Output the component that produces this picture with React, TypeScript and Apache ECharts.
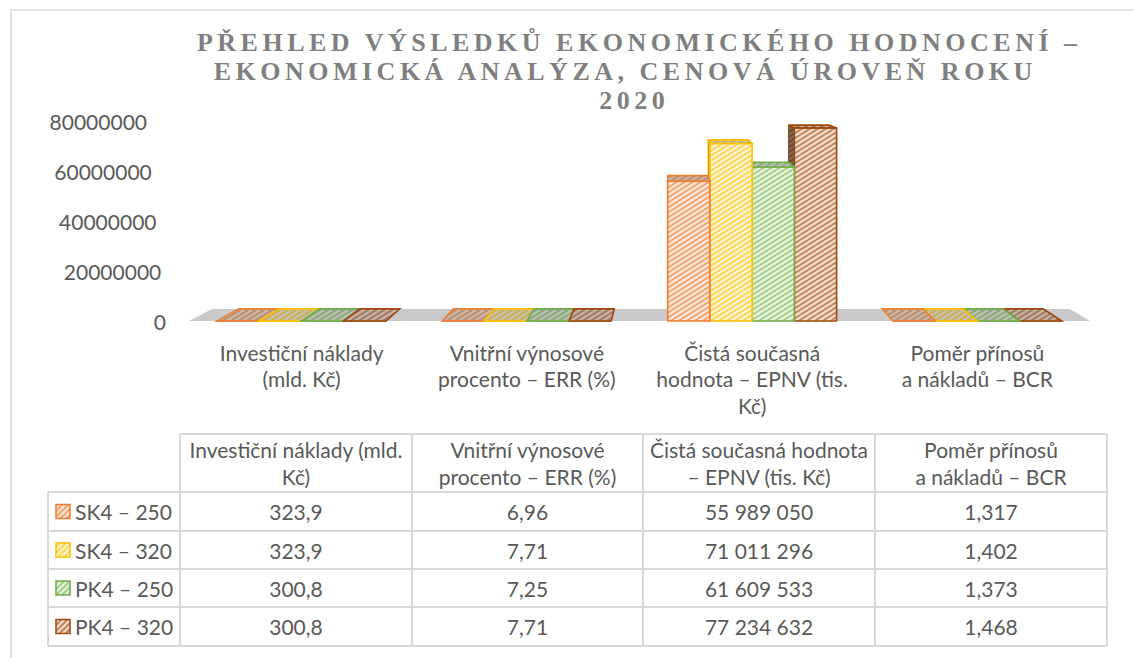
import React, { useEffect, useRef } from 'react';
import * as echarts from 'echarts';

// ---------- data ----------
const titleLines = [
  'PŘEHLED VÝSLEDKŮ EKONOMICKÉHO HODNOCENÍ –',
  'EKONOMICKÁ ANALÝZA, CENOVÁ ÚROVEŇ ROKU',
  '2020',
];
const categories = [
  'Investiční náklady (mld. Kč)',
  'Vnitřní výnosové procento – ERR (%)',
  'Čistá současná hodnota – EPNV (tis. Kč)',
  'Poměr přínosů a nákladů – BCR',
];
const axisLabelText = [
  'Investiční náklady\n(mld. Kč)',
  'Vnitřní výnosové\nprocento – ERR (%)',
  'Čistá současná\nhodnota – EPNV (tis.\nKč)',
  'Poměr přínosů\na nákladů – BCR',
];
const tableHeaderText = [
  'Investiční náklady (mld.\nKč)',
  'Vnitřní výnosové\nprocento – ERR (%)',
  'Čistá současná hodnota\n– EPNV (tis. Kč)',
  'Poměr přínosů\na nákladů – BCR',
];
const seriesNames = ['SK4 – 250', 'SK4 – 320', 'PK4 – 250', 'PK4 – 320'];
const investicniNaklady = [323.9, 323.9, 300.8, 300.8];
const vnitrniVynosove = [6.96, 7.71, 7.25, 7.71];
const cistaSoucasnaHodnota = [55989050, 71011296, 61609533, 77234632];
const pomerPrinosu = [1.317, 1.402, 1.373, 1.468];
const columnDecimals = [1, 2, 0, 3];
const yAxisTicks = [0, 20000000, 40000000, 60000000, 80000000];

// ---------- styles ----------
const borderColors = ['#ED7D31', '#FFC000', '#70AD47', '#9E480E'];
const bgColors = ['#FCE6D8', '#FFF5D2', '#E8F3E0', '#F8DFCE'];
const stripeColors = ['#F2A672', '#FFD659', '#A6CF8B', '#C48560'];
const TEXT = '#595959';
const FONT = 'Lato';
const TITLE_SPACING = 4.5;
const titleCenters = [637, 623, 632];
const titleYs = [42, 71, 100];

const colX = [180, 412, 643, 875, 1107];
const labelColX = 48;
const headerTop = 434;
const rowLines = [492, 531, 569, 607, 646];

function czFormat(v: number, d: number) {
  const s = v.toFixed(d);
  const [int, frac] = s.split('.');
  const grouped = int.replace(/\B(?=(\d{3})+(?!\d))/g, ' ');
  return frac ? grouped + ',' + frac : grouped;
}

function makePattern(bg: string, stripe: string, w = 8, h = 5, lw = 2) {
  const c = document.createElement('canvas');
  c.width = w;
  c.height = h;
  const g = c.getContext('2d')!;
  g.fillStyle = bg;
  g.fillRect(0, 0, w, h);
  g.strokeStyle = stripe;
  g.lineWidth = lw;
  const offs = [[0, 0], [-w, 0], [w, 0], [0, -h], [0, h]];
  for (const [dx, dy] of offs) {
    g.beginPath();
    g.moveTo(dx, h + dy);
    g.lineTo(w + dx, dy);
    g.stroke();
  }
  return { image: c, repeat: 'repeat', imageWidth: w, imageHeight: h } as any;
}

export default function App() {
  const ref = useRef<HTMLDivElement>(null);

  useEffect(() => {
    const el = ref.current!;
    const chart = echarts.init(el, null, { renderer: 'svg' });

    const patterns = borderColors.map((_, i) => makePattern(bgColors[i], stripeColors[i]));
    const keyPatterns = borderColors.map((_, i) => makePattern(stripeColors[i], bgColors[i], 6, 6, 2));

    const columnData = [investicniNaklady, vnitrniVynosove, cistaSoucasnaHodnota, pomerPrinosu];
    const seriesValues = seriesNames.map((_, i) => columnData.map((col) => col[i]));

    const VP_X = 0.535;
    const VP_Y = 0.26;
    const DEPTH = 0.048;

    const makeRender = (si: number) => (params: any, api: any) => {
      const ci = api.value(0);
      const v = api.value(1);
      const top = api.coord([ci, v]);
      const base = api.coord([ci, 0]);
      const band = api.size([1, 0])[0];
      const cs = params.coordSys;
      const vpX = cs.x + cs.width * VP_X;
      const vpY = cs.y - cs.height * VP_Y;
      const back = (x: number, y: number) => [x + (vpX - x) * DEPTH, y + (vpY - y) * DEPTH];
      const cluster = band * 0.75;
      const bw = cluster / seriesNames.length;
      const x0 = top[0] - cluster / 2 + si * bw;
      const x1 = x0 + bw;
      const yT = top[1];
      const yB = base[1];
      const center = (x0 + x1) / 2;
      const order = center > vpX ? seriesNames.length - si : si;
      const zb = 10 + order * 10;
      const children: any[] = [];
      if (yB - yT > 0.5) {
        const sx = center > vpX ? x0 : x1;
        const pts = [[sx, yT], back(sx, yT), back(sx, yB), [sx, yB]];
        children.push({ type: 'polygon', z2: zb, shape: { points: pts }, style: { fill: patterns[si] } });
        children.push({
          type: 'polygon', z2: zb + 1, shape: { points: pts },
          style: { fill: 'rgba(45,35,25,0.62)', stroke: borderColors[si], lineWidth: 1 },
        });
      }
      children.push({
        type: 'rect', z2: zb + 2,
        shape: { x: x0, y: yT, width: bw, height: yB - yT },
        style: { fill: patterns[si], stroke: borderColors[si], lineWidth: 1.6 },
      });
      const topPts = [[x0, yT], [x1, yT], back(x1, yT), back(x0, yT)];
      children.push({ type: 'polygon', z2: zb + 3, shape: { points: topPts }, style: { fill: patterns[si] } });
      children.push({
        type: 'polygon', z2: zb + 4, shape: { points: topPts },
        style: { fill: 'rgba(90,90,90,0.32)', stroke: borderColors[si], lineWidth: 1.6 },
      });
      return { type: 'group', children };
    };

    const floorRender = (params: any, api: any) => {
      const cs = params.coordSys;
      const vpX = cs.x + cs.width * VP_X;
      const vpY = cs.y - cs.height * VP_Y;
      const back = (x: number, y: number) => [x + (vpX - x) * DEPTH, y + (vpY - y) * DEPTH];
      const y0 = api.coord([0, 0])[1];
      const xl = cs.x;
      const xr = cs.x + cs.width;
      return {
        type: 'polygon',
        z2: 0,
        shape: { points: [[xl, y0], [xr, y0], back(xr, y0), back(xl, y0)] },
        style: { fill: '#c9c9c9' },
      };
    };

    const yRich: any = {};
    yAxisTicks.forEach((_, i) => {
      yRich['p' + i] = {
        fontFamily: FONT, fontSize: 21, color: TEXT,
        padding: [0, i * 4.75, 0, 0],
      };
    });

    // ---------- table graphic ----------
    const graphics: any[] = [];
    graphics.push({
      type: 'rect', silent: true, z: -10,
      shape: { x: 11, y: 10, width: 1300, height: 800 },
      style: { fill: 'none', stroke: '#d9d9d9', lineWidth: 1.5 },
    });
    titleLines.forEach((t, i) => {
      graphics.push({
        type: 'text', x: titleCenters[i] + TITLE_SPACING / 2, y: titleYs[i],
        style: {
          text: t, fill: '#7f7f7f', fontFamily: '"Liberation Serif", serif', fontWeight: 'bold', fontSize: 26,
          textAlign: 'center', align: 'center', textVerticalAlign: 'middle', verticalAlign: 'middle',
        },
      });
    });
    const lineStyle = { stroke: '#d9d9d9', lineWidth: 2 };
    const lastRow = rowLines[rowLines.length - 1];
    graphics.push({ type: 'line', shape: { x1: colX[0], y1: headerTop, x2: colX[colX.length - 1], y2: headerTop }, style: lineStyle });
    rowLines.forEach((y) => {
      graphics.push({ type: 'line', shape: { x1: labelColX, y1: y, x2: colX[colX.length - 1], y2: y }, style: lineStyle });
    });
    graphics.push({ type: 'line', shape: { x1: labelColX, y1: rowLines[0], x2: labelColX, y2: lastRow }, style: lineStyle });
    colX.forEach((x) => {
      graphics.push({ type: 'line', shape: { x1: x, y1: headerTop, x2: x, y2: lastRow }, style: lineStyle });
    });
    const textBase = {
      fill: TEXT, fontFamily: FONT, fontSize: 21,
    };
    tableHeaderText.forEach((t, j) => {
      graphics.push({
        type: 'text', x: (colX[j] + colX[j + 1]) / 2, y: (headerTop + rowLines[0]) / 2 - 0.5,
        style: {
          ...textBase, text: t, lineHeight: 27,
          textAlign: 'center', align: 'center', textVerticalAlign: 'middle', verticalAlign: 'middle',
        },
      });
    });
    seriesNames.forEach((name, i) => {
      const cy = (rowLines[i] + rowLines[i + 1]) / 2;
      graphics.push({
        type: 'rect', shape: { x: 56, y: cy - 7, width: 14, height: 14 },
        style: { fill: keyPatterns[i], stroke: borderColors[i], lineWidth: 1.5 },
      });
      graphics.push({
        type: 'text', x: 75, y: cy,
        style: { ...textBase, text: name, textAlign: 'left', align: 'left', textVerticalAlign: 'middle', verticalAlign: 'middle' },
      });
      columnData.forEach((col, j) => {
        graphics.push({
          type: 'text', x: (colX[j] + colX[j + 1]) / 2, y: cy,
          style: {
            ...textBase, text: czFormat(col[i], columnDecimals[j]),
            textAlign: 'center', align: 'center', textVerticalAlign: 'middle', verticalAlign: 'middle',
          },
        });
      });
    });

    const option: any = {
      animation: false,
      backgroundColor: '#ffffff',
      grid: { left: 189, top: 121, width: 901, height: 200 },
      xAxis: {
        type: 'category',
        data: categories,
        axisLine: { show: false },
        axisTick: { show: false },
        splitLine: { show: false },
        axisLabel: {
          interval: 0,
          margin: 18,
          fontFamily: FONT,
          fontSize: 21,
          lineHeight: 26.5,
          color: TEXT,
          align: 'center',
          formatter: (_v: string, idx: number) => axisLabelText[idx],
        },
      },
      yAxis: {
        type: 'value',
        min: yAxisTicks[0],
        max: yAxisTicks[yAxisTicks.length - 1],
        interval: yAxisTicks[1] - yAxisTicks[0],
        axisLine: { show: false },
        axisTick: { show: false },
        splitLine: { show: false },
        axisLabel: {
          margin: 23,
          fontFamily: FONT,
          fontSize: 21,
          color: TEXT,
          formatter: (val: number) => `{p${yAxisTicks.indexOf(val)}|${val}}`,
          rich: yRich,
        },
      },
      graphic: graphics,
      series: [
        {
          type: 'custom',
          name: 'floor',
          z: 1,
          clip: false,
          silent: true,
          renderItem: floorRender,
          encode: { x: 0, y: 1 },
          data: [[0, 0]],
        },
        ...seriesNames.map((name, si) => ({
          type: 'custom',
          name,
          z: 2,
          clip: false,
          renderItem: makeRender(si),
          encode: { x: 0, y: 1 },
          data: categories.map((_, j) => [j, seriesValues[si][j]]),
        })),
      ],
    };

    chart.setOption(option);

    const applySpacing = () => {
      el.querySelectorAll('text').forEach((t) => {
        if (titleLines.includes((t.textContent || '').trim())) {
          t.setAttribute('letter-spacing', TITLE_SPACING + 'px');
        }
      });
    };
    applySpacing();
    chart.on('finished', applySpacing);
    const raf = requestAnimationFrame(applySpacing);

    return () => {
      cancelAnimationFrame(raf);
      chart.dispose();
    };
  }, []);

  return (
    <div
      ref={ref}
      style={{ position: 'fixed', left: 0, top: 0, width: 1134, height: 658 }}
    />
  );
}
